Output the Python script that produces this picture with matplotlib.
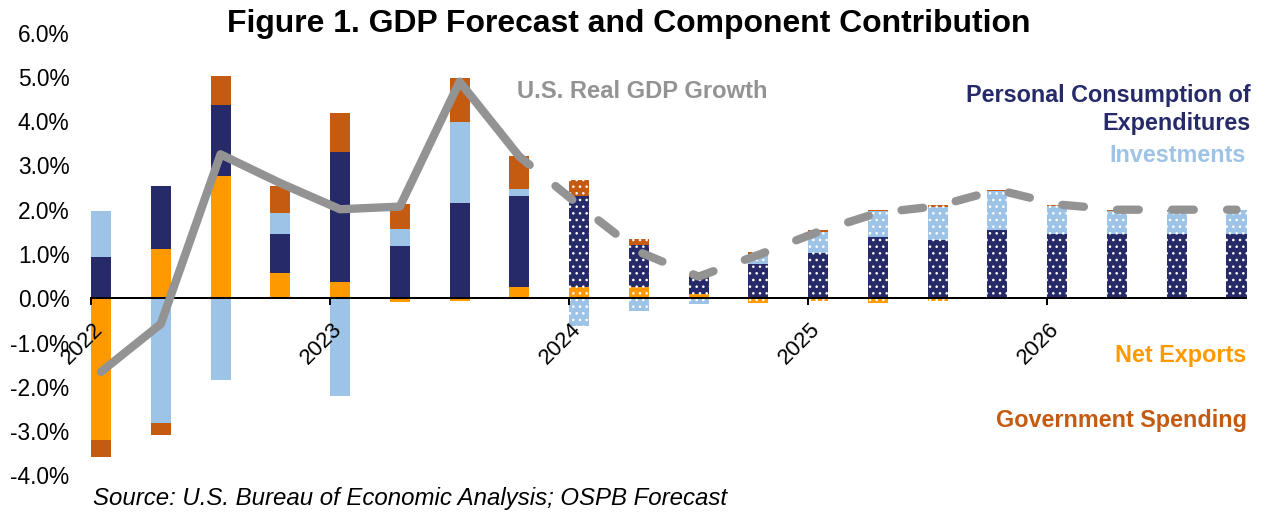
import numpy as np
import matplotlib
matplotlib.use("Agg")
import matplotlib.pyplot as plt
from matplotlib.ticker import FuncFormatter
from matplotlib.transforms import ScaledTranslation

plt.rcParams['font.family'] = ['Liberation Sans', 'DejaVu Sans']
plt.rcParams['hatch.linewidth'] = 1.1

# quarterly data, 2022Q1 - 2026Q4 (2024 onward is forecast)
quarters = ['2022Q1', '2022Q2', '2022Q3', '2022Q4',
            '2023Q1', '2023Q2', '2023Q3', '2023Q4',
            '2024Q1', '2024Q2', '2024Q3', '2024Q4',
            '2025Q1', '2025Q2', '2025Q3', '2025Q4',
            '2026Q1', '2026Q2', '2026Q3', '2026Q4']
year_labels = ['2022', '2023', '2024', '2025', '2026']
first_forecast = '2024Q1'

net_exports = [-3.20, 1.11, 2.76, 0.57, 0.36, -0.09, -0.05, 0.26,
               0.26, 0.26, 0.09, -0.10, -0.05, -0.10, -0.05, 0.00,
               0.00, 0.00, 0.00, 0.00]
consumption = [0.93, 1.43, 1.61, 0.88, 2.95, 1.17, 2.15, 2.06,
               2.06, 0.94, 0.38, 0.77, 1.02, 1.38, 1.32, 1.54,
               1.45, 1.45, 1.45, 1.45]
investment = [1.04, -2.81, -1.84, 0.48, -2.21, 0.39, 1.83, 0.15,
              -0.62, -0.29, -0.13, 0.23, 0.48, 0.59, 0.75, 0.88,
              0.63, 0.53, 0.53, 0.54]
government = [-0.39, -0.28, 0.65, 0.61, 0.87, 0.57, 0.99, 0.74,
              0.35, 0.13, 0.12, 0.04, 0.04, 0.03, 0.04, 0.02,
              0.02, 0.02, 0.01, 0.01]
gdp_growth = [-1.66, -0.58, 3.25, 2.60, 2.01, 2.07, 4.89, 3.20,
              2.10, 1.05, 0.49, 0.98, 1.50, 1.93, 2.08, 2.45,
              2.12, 2.00, 2.00, 2.00]

NAVY = '#262a69'
LIGHT_BLUE = '#9dc3e6'
ORANGE = '#ff9900'
RUST = '#c55a11'
GRAY = '#939393'

W, H, DPI = 1265, 514, 80
fig = plt.figure(figsize=(W / DPI, H / DPI), dpi=DPI)
ax = fig.add_axes([91 / W, 1 - 475.5 / H, (1246.5 - 91) / W, (475.5 - 32.5) / H])

for s in ['top', 'right', 'left']:
    ax.spines[s].set_visible(False)
ax.spines['bottom'].set_position(('data', 0))
ax.spines['bottom'].set_linewidth(1.8)

x = np.arange(len(quarters))
bw = 0.335
fc = x >= quarters.index(first_forecast)

# stacked bars, positives and negatives stacked separately
pos = np.zeros(len(x))
neg = np.zeros(len(x))
for vals, color in [(net_exports, ORANGE), (consumption, NAVY),
                    (investment, LIGHT_BLUE), (government, RUST)]:
    v = np.array(vals)
    bottom = np.where(v >= 0, pos, neg)
    ax.bar(x[~fc], v[~fc], bw, bottom=bottom[~fc], color=color, linewidth=0)
    ax.bar(x[fc], v[fc], bw, bottom=bottom[fc], color=color,
           edgecolor='white', linewidth=0, hatch='..')
    pos += np.where(v > 0, v, 0)
    neg += np.where(v < 0, v, 0)

# GDP growth: actual solid, forecast dashed
gdp = np.array(gdp_growth)
k = quarters.index(first_forecast)
ax.plot(x[:k], gdp[:k], color=GRAY, lw=7.5, solid_capstyle='round',
        solid_joinstyle='round', zorder=5)
ax.plot(x[k - 1:], gdp[k - 1:], color=GRAY, lw=7.5, linestyle=(1.0, (2.6, 4.0)),
        dash_capstyle='round', zorder=5)

ax.set_xlim(-bw / 2, len(x) - 1 + bw / 2)
ax.set_ylim(-4, 6)
ax.set_yticks(np.arange(-4, 7, 1))
ax.yaxis.set_major_formatter(FuncFormatter(lambda v, p: f'{v:.1f}%'))
ax.set_xticks([quarters.index(y + 'Q1') - bw / 2 for y in year_labels])
ax.set_xticklabels(year_labels)

ax.tick_params(axis='y', length=0, pad=19.4, labelsize=20.5)
ax.tick_params(axis='x', length=6.3, width=1.8, direction='out', pad=12,
               labelsize=20, labelrotation=45)
shift = ScaledTranslation(-9 / DPI, 0, fig.dpi_scale_trans)
for lab in ax.get_xticklabels():
    lab.set_transform(lab.get_transform() + shift)


def ftext(px, py, s, **kw):
    fig.text(px / W, 1 - py / H, s, va='baseline', **kw)


ftext(628.5, 31.7, 'Figure 1. GDP Forecast and Component Contribution',
      ha='center', fontsize=28.7, fontweight='bold')
ftext(517, 98, 'U.S. Real GDP Growth', ha='left', fontsize=21.4,
      fontweight='bold', color=GRAY)
ftext(1250.7, 102.3, 'Personal Consumption of', ha='right', fontsize=21,
      fontweight='bold', color=NAVY)
ftext(1250.7, 130, 'Expenditures', ha='right', fontsize=21,
      fontweight='bold', color=NAVY)
ftext(1246, 161.7, 'Investments', ha='right', fontsize=21,
      fontweight='bold', color=LIGHT_BLUE)
ftext(1246, 362.3, 'Net Exports', ha='right', fontsize=21,
      fontweight='bold', color=ORANGE)
ftext(1246.7, 427.5, 'Government Spending', ha='right', fontsize=21,
      fontweight='bold', color=RUST)
ftext(93, 505, 'Source: U.S. Bureau of Economic Analysis; OSPB Forecast',
      ha='left', fontsize=21.6, fontstyle='italic')

fig.savefig('out.png', dpi=DPI)
